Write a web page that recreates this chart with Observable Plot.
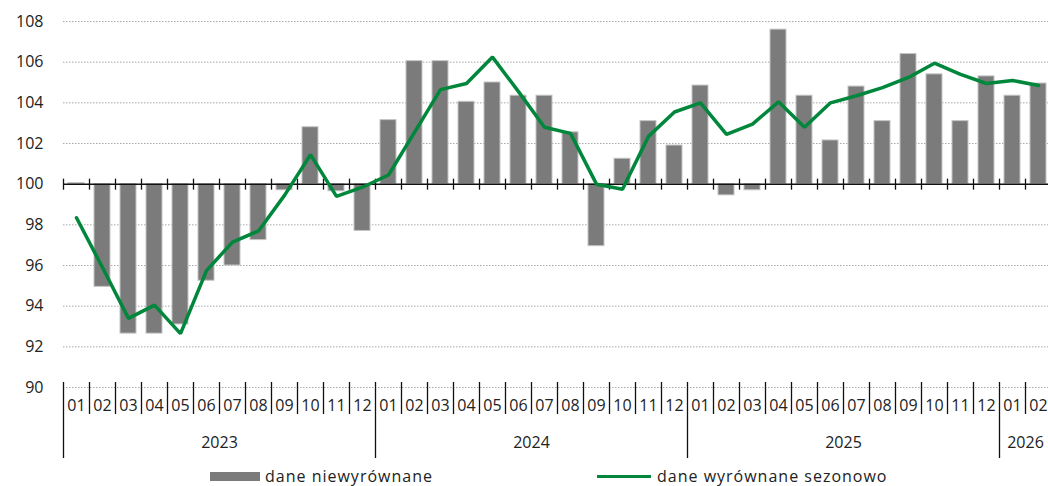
<!DOCTYPE html>
<html>
<head>
<meta charset="utf-8">
<script src="https://cdn.jsdelivr.net/npm/d3@7"></script>
<script src="https://cdn.jsdelivr.net/npm/@observablehq/plot@0.6"></script>
<style>
  html, body { margin: 0; padding: 0; background: #fff; }
  body { width: 1048px; height: 486px; overflow: hidden; font-family: "Open Sans", sans-serif; }
  #chart { height: 466px; }
  #chart svg { display: block; }
  #legend { position: relative; height: 20px; font-size: 16px; line-height: 20px; color: #222; }
  .item { position: absolute; top: 0; display: flex; align-items: center; height: 20px; letter-spacing: 1px; }
  .sw-bar { width: 50px; height: 9px; background: #7b7b7b; margin-right: 5px; }
  .sw-line { width: 54px; height: 3px; background: #00873c; margin-right: 6px; }
</style>
</head>
<body>
<div id="chart"></div>
<div id="legend">
  <div class="item" style="left:210px"><span class="sw-bar"></span><span>dane niewyrównane</span></div>
  <div class="item" style="left:597px"><span class="sw-line"></span><span>dane wyrównane sezonowo</span></div>
</div>
<script>
// Data
const years = ["2023", "2024", "2025", "2026"];
const monthLabels = ["01","02","03","04","05","06","07","08","09","10","11","12",
                     "01","02","03","04","05","06","07","08","09","10","11","12",
                     "01","02","03","04","05","06","07","08","09","10","11","12",
                     "01","02"];
const monthYears = [
  "2023","2023","2023","2023","2023","2023","2023","2023","2023","2023","2023","2023",
  "2024","2024","2024","2024","2024","2024","2024","2024","2024","2024","2024","2024",
  "2025","2025","2025","2025","2025","2025","2025","2025","2025","2025","2025","2025",
  "2026","2026"];
// dane niewyrównane (unadjusted)
const unadjusted = [
  100.05, 94.95, 92.65, 92.65, 93.1, 95.25, 96.0, 97.25, 99.7, 102.8, 99.65, 97.7,
  103.15, 106.05, 106.05, 104.05, 105.0, 104.35, 104.35, 102.55, 96.95, 101.25, 103.1, 101.9,
  104.85, 99.45, 99.7, 107.6, 104.35, 102.15, 104.8, 103.1, 106.4, 105.4, 103.1, 105.3,
  104.35, 104.95];
// dane wyrównane sezonowo (seasonally adjusted)
const adjusted = [
  98.35, 95.9, 93.4, 94.05, 92.65, 95.75, 97.15, 97.7, 99.45, 101.45, 99.4, 99.85,
  100.45, 102.55, 104.65, 104.95, 106.25, 104.55, 102.8, 102.5, 100.0, 99.75, 102.35, 103.55,
  104.0, 102.45, 102.95, 104.05, 102.8, 104.0, 104.35, 104.75, 105.25, 105.95, 105.4, 104.95,
  105.1, 104.85];
const yTicks = [90, 92, 94, 96, 98, 100, 102, 104, 106, 108];

// Derived tables
const rows = monthLabels.map((m, i) => ({i, m, year: monthYears[i], u: unadjusted[i], a: adjusted[i]}));
const bounds = d3.range(0, monthLabels.length + 1);
const yearStarts = bounds.filter(b => b === monthLabels.length || (b < monthLabels.length && (b === 0 || monthYears[b] !== monthYears[b - 1])));
const monthBounds = bounds.filter(b => !yearStarts.includes(b));
const yearCenters = years.map(y => {
  const idx = rows.filter(r => r.year === y).map(r => r.i);
  return {year: y, x: (d3.min(idx) + d3.max(idx) + 1) / 2};
});

const green = "#00873c";

const chart = Plot.plot({
  width: 1048,
  height: 466,
  marginLeft: 63,
  marginRight: -3,
  marginTop: 21,
  marginBottom: 79,
  style: {fontFamily: "'Open Sans', sans-serif", fontSize: "16px", color: "#222", background: "#fff", overflow: "visible"},
  x: {type: "linear", domain: [0, monthLabels.length], axis: null},
  y: {domain: [90, 108], ticks: yTicks, tickSize: 0, tickPadding: 20, tickFormat: d => String(d), label: null},
  marks: [
    Plot.ruleY(yTicks.filter(t => t !== 100), {stroke: "#a8a8a8", strokeWidth: 1, strokeDasharray: "1.5,1.5"}),
    Plot.rectY(rows, {x1: d => d.i, x2: d => d.i + 1, y1: 100, y2: "u", insetLeft: 5, insetRight: 5,
      fill: "#7b7b7b", stroke: "#c4c4c4", strokeWidth: 1}),
    Plot.ruleY([100], {stroke: "#111", strokeWidth: 1.5}),
    Plot.ruleX(bounds, {x: d => d, y1: 100, y2: 100, insetTop: -5, insetBottom: -6, stroke: "#111", strokeWidth: 1.3}),
    Plot.line(rows, {x: d => d.i + 0.5, y: "a", stroke: green, strokeWidth: 3.5, strokeLinejoin: "miter"}),
    Plot.ruleX(monthBounds, {x: d => d, y1: 90, y2: 90, insetTop: -5, insetBottom: -27, stroke: "#111", strokeWidth: 1.3}),
    Plot.ruleX(yearStarts, {x: d => d, y1: 90, y2: 90, insetTop: -5, insetBottom: -71, stroke: "#111", strokeWidth: 1.3}),
    Plot.text(rows, {x: d => d.i + 0.5, frameAnchor: "bottom", dy: 23, text: "m", fill: "#222", fontSize: 16}),
    Plot.text(yearCenters, {x: "x", frameAnchor: "bottom", dy: 60, text: "year", fill: "#222", fontSize: 16})
  ]
});
document.getElementById("chart").appendChild(chart);
</script>
</body>
</html>
